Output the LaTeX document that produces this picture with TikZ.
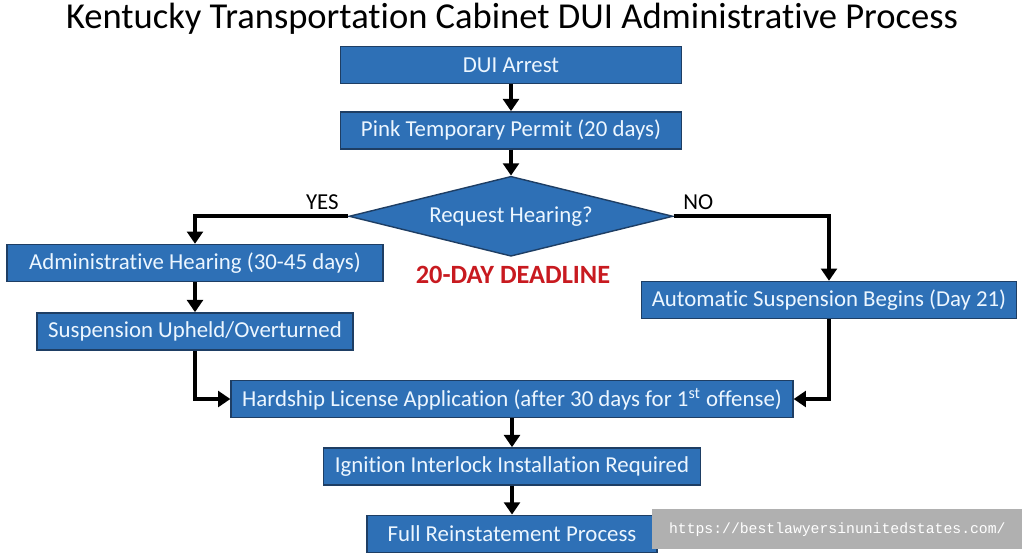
\documentclass[tikz,border=0pt]{standalone}
\usepackage{fontspec}
\setmainfont{Carlito}[Ligatures=NoCommon]
\setmonofont{Liberation Mono}
\usetikzlibrary{positioning,arrows.meta,shapes.geometric}

\definecolor{boxblue}{RGB}{46,112,182}
\definecolor{boxline}{RGB}{30,62,100}
\definecolor{boxtext}{RGB}{236,246,255}
\definecolor{deadred}{RGB}{200,26,32}
\definecolor{markgray}{RGB}{176,176,176}

\begin{document}
\begin{tikzpicture}[x=0.02cm,y=-0.02cm]
	\tikzset{
	    stepbox/.style={draw=boxline, line width=0.8pt, fill=boxblue, text=boxtext,
	        font=\fontsize{13}{15}\selectfont, minimum height=0.74cm, inner sep=0pt},
	    flow/.style={line width=2.3pt, -{Triangle[width=9pt,length=7pt]}}
	}

	\useasboundingbox (0,0) rectangle (1024,559);

	\node (title) at (512,19) {\fontsize{20.8}{24}\selectfont Kentucky Transportation Cabinet DUI Administrative Process};

	\node[stepbox, minimum width=6.82cm] (arrest) at (511,65) {DUI Arrest};
	\node[stepbox, minimum width=6.82cm, below=0.54cm of arrest] (permit) {Pink Temporary Permit (20 days)};
	\node[diamond, draw=boxline, line width=0.8pt, fill=boxblue, text=boxtext, aspect=4, inner sep=0pt,
	    minimum width=6.48cm, minimum height=1.6cm, font=\fontsize{13}{15}\selectfont,
	    below=0.52cm of permit] (hearing) {Request Hearing?};

	\node[stepbox, minimum width=7.52cm] (admin) at (195,263) {Administrative Hearing (30-45 days)};
	\node[stepbox, minimum width=6.32cm, below=0.6cm of admin] (upheld) {Suspension Upheld/Overturned};
	\node[stepbox, minimum width=7.5cm] (auto) at (829,300) {Automatic Suspension Begins (Day 21)};

	\node[text=deadred, font=\fontsize{15}{17}\selectfont\bfseries] (deadline) at (513,275) {20-DAY DEADLINE};

	\node[stepbox, minimum width=11.24cm] (hardship) at (512,399) {Hardship License Application (after 30 days for 1\textsuperscript{st} offense)};
	\node[stepbox, minimum width=7.54cm, below=0.58cm of hardship] (interlock) {Ignition Interlock Installation Required};
	\node[stepbox, minimum width=5.8cm, below=0.58cm of interlock] (reinstate) {Full Reinstatement Process};

	\draw[flow] (arrest) -- (permit);
	\draw[flow] (permit) -- (hearing);
	\draw[flow] (hearing.west) -| (admin.north);
	\draw[flow] (hearing.east) -| (auto.north);
	\draw[flow] (admin) -- (upheld);
	\draw[flow] (upheld.south) |- (hardship.west);
	\draw[flow] (auto.south) |- (hardship.east);
	\draw[flow] (hardship) -- (interlock);
	\draw[flow] (interlock) -- (reinstate);

	\node[font=\fontsize{13}{15}\selectfont, above left=0pt and 2pt of hearing.west] (yes) {YES};
	\node[font=\fontsize{13}{15}\selectfont, above right=0pt and 2pt of hearing.east] (no) {NO};

	\node[fill=markgray, text=white, font=\ttfamily\fontsize{8.4}{10}\selectfont,
	    minimum width=7.4cm, minimum height=0.8cm, anchor=north west] (mark) at (652,509) {https://bestlawyersinunitedstates.com/};
\end{tikzpicture}
\end{document}
